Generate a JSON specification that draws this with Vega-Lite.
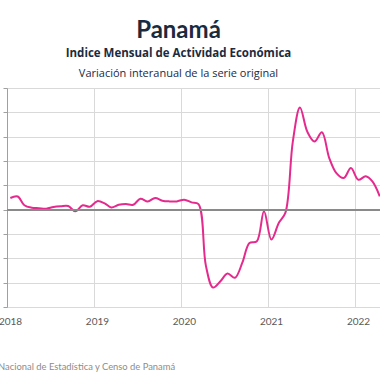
{
  "$schema": "https://vega.github.io/schema/vega-lite/v6.json",
  "width": 373,
  "height": 219,
  "autosize": {"type": "none"},
  "padding": {"left": 7, "top": 88, "right": 0, "bottom": 73},
  "background": "white",
  "title": {
    "text": "Panamá",
    "subtitle": "Indice Mensual de  Actividad Económica",
    "anchor": "middle",
    "frame": "group",
    "dx": -15,
    "font": "Lato",
    "fontSize": 24,
    "fontWeight": "bold",
    "color": "#1b2b3f",
    "subtitleFont": "Open Sans",
    "subtitleFontSize": 11.5,
    "subtitleFontWeight": "bold",
    "subtitleColor": "#1b2b3f",
    "subtitlePadding": 5,
    "offset": 8
  },
  "config": {
    "view": {"stroke": null},
    "axis": {"labelFont": "Lato", "titleFont": "Lato"}
  },
  "data": {
    "values": [
      {"fecha": "2018-01-15", "variacion": 4.8},
      {"fecha": "2018-02-15", "variacion": 5.4},
      {"fecha": "2018-03-15", "variacion": 1.8},
      {"fecha": "2018-04-15", "variacion": 0.8},
      {"fecha": "2018-05-15", "variacion": 0.6},
      {"fecha": "2018-06-15", "variacion": 0.4},
      {"fecha": "2018-07-15", "variacion": 1.1},
      {"fecha": "2018-08-15", "variacion": 1.4},
      {"fecha": "2018-09-15", "variacion": 1.5},
      {"fecha": "2018-10-15", "variacion": -0.7},
      {"fecha": "2018-11-15", "variacion": 1.8},
      {"fecha": "2018-12-15", "variacion": 1.2},
      {"fecha": "2019-01-15", "variacion": 3.5},
      {"fecha": "2019-02-15", "variacion": 2.6},
      {"fecha": "2019-03-15", "variacion": 0.9},
      {"fecha": "2019-04-15", "variacion": 2.0},
      {"fecha": "2019-05-15", "variacion": 2.3},
      {"fecha": "2019-06-15", "variacion": 2.0},
      {"fecha": "2019-07-15", "variacion": 4.5},
      {"fecha": "2019-08-15", "variacion": 3.4},
      {"fecha": "2019-09-15", "variacion": 4.8},
      {"fecha": "2019-10-15", "variacion": 3.7},
      {"fecha": "2019-11-15", "variacion": 3.4},
      {"fecha": "2019-12-15", "variacion": 3.4},
      {"fecha": "2020-01-15", "variacion": 4.1},
      {"fecha": "2020-02-15", "variacion": 3.0},
      {"fecha": "2020-03-15", "variacion": 2.3},
      {"fecha": "2020-04-15", "variacion": -23.0},
      {"fecha": "2020-05-15", "variacion": -32.0},
      {"fecha": "2020-06-15", "variacion": -29.4},
      {"fecha": "2020-07-15", "variacion": -26.2},
      {"fecha": "2020-08-15", "variacion": -28.0},
      {"fecha": "2020-09-15", "variacion": -21.8},
      {"fecha": "2020-10-15", "variacion": -13.7},
      {"fecha": "2020-11-15", "variacion": -13.0},
      {"fecha": "2020-12-15", "variacion": -0.7},
      {"fecha": "2021-01-15", "variacion": -12.3},
      {"fecha": "2021-02-15", "variacion": -5.5},
      {"fecha": "2021-03-15", "variacion": -1.2},
      {"fecha": "2021-04-15", "variacion": 28.0},
      {"fecha": "2021-05-15", "variacion": 42.0},
      {"fecha": "2021-06-15", "variacion": 32.0},
      {"fecha": "2021-07-15", "variacion": 28.0},
      {"fecha": "2021-08-15", "variacion": 31.8},
      {"fecha": "2021-09-15", "variacion": 21.2},
      {"fecha": "2021-10-15", "variacion": 15.0},
      {"fecha": "2021-11-15", "variacion": 13.0},
      {"fecha": "2021-12-15", "variacion": 17.1},
      {"fecha": "2022-01-15", "variacion": 12.3},
      {"fecha": "2022-02-15", "variacion": 13.7},
      {"fecha": "2022-03-15", "variacion": 11.6},
      {"fecha": "2022-04-15", "variacion": 5.5}
    ]
  },
  "resolve": {"axis": {"x": "independent"}},
  "layer": [
    {
      "mark": {"type": "line", "color": "#E52A8E", "strokeWidth": 2, "interpolate": "catmull-rom"},
      "encoding": {
        "x": {
          "field": "fecha", "type": "temporal",
          "scale": {"domain": ["2018-01-01", "2022-04-16"]},
          "axis": {
            "format": "%Y", "tickCount": "year", "ticks": false, "domain": false,
            "grid": true, "gridColor": "#d9d9d9", "labelFlush": false, "labelOverlap": false,
            "labelFontSize": 10, "labelColor": "#595959", "labelPadding": 9, "labelOffset": 3,
            "title": "Fuente: Instituto Nacional de Estadística y Censo de Panamá",
            "titleAnchor": "start", "titleAlign": "left", "titleBaseline": "alphabetic",
            "titleX": -80, "titleY": 62, "titleFontSize": 9.4, "titleFontWeight": "normal", "titleColor": "#8c8c8c"
          }
        },
        "y": {
          "field": "variacion", "type": "quantitative",
          "scale": {"domain": [-40, 50], "nice": false},
          "axis": {
            "values": [-40, -30, -20, -10, 0, 10, 20, 30, 40, 50],
            "labels": false, "title": null, "grid": true, "gridColor": "#d9d9d9",
            "domainColor": "#a0a0a0", "tickColor": "#a0a0a0", "tickSize": 4
          }
        }
      }
    },
    {
      "mark": {"type": "rule", "color": "#8a8a8a", "strokeWidth": 1.5},
      "encoding": {
        "y": {"datum": 0, "type": "quantitative",
          "axis": {
            "values": [-40, -30, -20, -10, 0, 10, 20, 30, 40, 50],
            "labels": false, "title": null, "grid": true, "gridColor": "#d9d9d9",
            "domainColor": "#a0a0a0", "tickColor": "#a0a0a0", "tickSize": 4
          }},
        "x": {"datum": {"year": 2018, "month": 1, "date": 1}, "type": "temporal",
          "axis": {"orient": "top", "title": "Variación interanual de la serie original", "labels": false, "ticks": false, "domain": false, "grid": false, "titleFont": "Open Sans", "titleFontSize": 11, "titleFontWeight": "normal", "titleColor": "#1b2b3f", "titlePadding": 10, "titleAnchor": "middle", "titleAlign": "center", "titleX": 171}},
        "x2": {"datum": {"year": 2022, "month": 4, "date": 16}}
      }
    }
  ]
}
